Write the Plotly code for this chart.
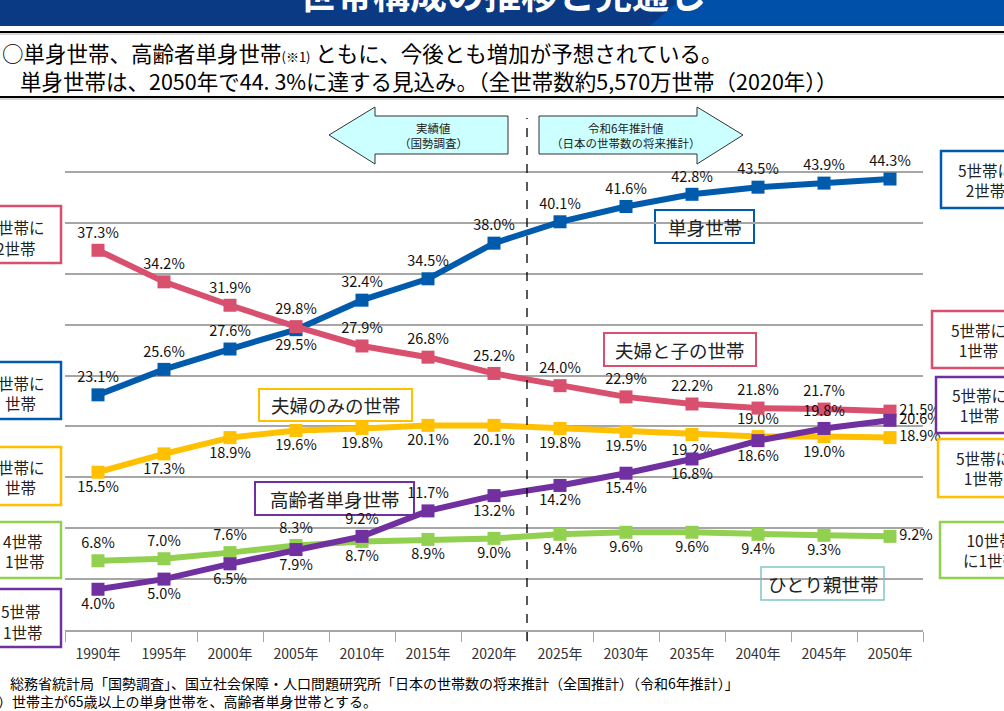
import plotly.graph_objects as go

# data (%)
years = ["1990年", "1995年", "2000年", "2005年", "2010年", "2015年", "2020年",
         "2025年", "2030年", "2035年", "2040年", "2045年", "2050年"]
tanshin = [23.1, 25.6, 27.6, 29.5, 32.4, 34.5, 38.0, 40.1, 41.6, 42.8, 43.5, 43.9, 44.3]
fufu_ko = [37.3, 34.2, 31.9, 29.8, 27.9, 26.8, 25.2, 24.0, 22.9, 22.2, 21.8, 21.7, 21.5]
fufu_nomi = [15.5, 17.3, 18.9, 19.6, 19.8, 20.1, 20.1, 19.8, 19.5, 19.2, 19.0, 19.0, 18.9]
koreisha = [4.0, 5.0, 6.5, 7.9, 9.2, 11.7, 13.2, 14.2, 15.4, 16.8, 18.6, 19.8, 20.6]
hitorioya = [6.8, 7.0, 7.6, 8.3, 8.7, 8.9, 9.0, 9.4, 9.6, 9.6, 9.4, 9.3, 9.2]

BLUE = "#005BAC"
PINK = "#D9506F"
YELLOW = "#FFC000"
PURPLE = "#7030A0"
GREEN = "#92D050"
TEAL = "#80C6C6"
FONT = "Noto Sans CJK JP"

T, B, MR = "top center", "bottom center", "middle right"
pos_tanshin = [T, T, T, B, T, T, T, T, T, T, T, T, T]
pos_fufu_ko = [T] * 12 + [MR]
pos_fufu_nomi = [B] * 10 + [T, B, MR]
pos_koreisha = [B, B, B, B, T, T, B, B, B, B, B, T, MR]
pos_hitorioya = [T, T, T, T] + [B] * 8 + [MR]

# pixel layout of the plot area
W, H = 1004, 711
L, R, TOP, BOT = 65, 923, 121, 630


def px(x):
    return (x - L) / (R - L)


def py(y):
    return (BOT - y) / (BOT - TOP)


fig = go.Figure()


def add_series(vals, color, positions, name):
    fig.add_trace(go.Scatter(
        x=years, y=vals, mode="lines+markers+text", name=name,
        line=dict(color=color, width=6),
        marker=dict(symbol="square", size=13, color=color),
        text=[f"{v:.1f}%" for v in vals], textposition=positions,
        textfont=dict(size=14.5, color="#111111", family=FONT),
        cliponaxis=False, showlegend=False,
    ))


add_series(hitorioya, GREEN, pos_hitorioya, "ひとり親世帯")
add_series(fufu_nomi, YELLOW, pos_fufu_nomi, "夫婦のみの世帯")
add_series(tanshin, BLUE, pos_tanshin, "単身世帯")
add_series(fufu_ko, PINK, pos_fufu_ko, "夫婦と子の世帯")
add_series(koreisha, PURPLE, pos_koreisha, "高齢者単身世帯")

shapes = []
annos = []


def rect(x0, y0, x1, y1, color, width=2.5, fill="white", layer="above"):
    shapes.append(dict(type="rect", xref="paper", yref="paper",
                       x0=px(x0), x1=px(x1), y0=py(y1), y1=py(y0),
                       line=dict(color=color, width=width), fillcolor=fill, layer=layer))


def text(x, y, s, size=15, xanchor="center", color="#222222", align="center"):
    annos.append(dict(xref="paper", yref="paper", x=px(x), y=py(y), text=s,
                      showarrow=False, xanchor=xanchor, yanchor="middle", align=align,
                      font=dict(size=size, color=color, family=FONT)))


# banner at the top (mostly cut off)
shapes.append(dict(type="rect", xref="paper", yref="paper", x0=px(0), x1=px(W),
                   y0=py(26), y1=py(0), line=dict(width=0), fillcolor="#0B3A84", layer="above"))
shapes.append(dict(type="path", xref="paper", yref="paper",
                   path=f"M {px(650)} {py(26)} L {px(680)} {py(0)} L {px(W)} {py(0)} L {px(W)} {py(26)} Z",
                   line=dict(width=0), fillcolor="#0050AA", layer="above"))
annos.append(dict(xref="paper", yref="paper", x=px(502), y=py(-7), text="<b>世帯構成の推移と見通し</b>",
                  showarrow=False, xanchor="center", yanchor="middle",
                  font=dict(size=37, color="white", family=FONT)))

# header box lines
for yy in (32, 97):
    shapes.append(dict(type="line", xref="paper", yref="paper", x0=px(0), x1=px(W),
                       y0=py(yy), y1=py(yy), line=dict(color="black", width=2)))
    shapes.append(dict(type="line", xref="paper", yref="paper", x0=px(0), x1=px(W),
                       y0=py(yy + 2), y1=py(yy + 2), line=dict(color="#B0B0B0", width=1)))

text(0, 52, "○単身世帯、高齢者単身世帯<span style='font-size:13px'>(※1)</span> ともに、今後とも増加が予想されている。",
     size=21.5, xanchor="left", color="black")
text(18, 80, "単身世帯は、2050年で44. 3%に達する見込み。（全世帯数約5,570万世帯（2020年））",
     size=21.5, xanchor="left", color="black")

# arrows
left_arrow = [(329, 135), (375, 107), (375, 116), (508, 116), (508, 154), (375, 154), (375, 164)]
right_arrow = [(539, 116), (697, 116), (697, 107), (743, 135), (697, 164), (697, 154), (539, 154)]
for pts in (left_arrow, right_arrow):
    path = "M " + " L ".join(f"{px(a)} {py(b)}" for a, b in pts) + " Z"
    shapes.append(dict(type="path", xref="paper", yref="paper", path=path,
                       fillcolor="#CCFFFF", line=dict(color="#333333", width=1), layer="above"))
text(433, 128, "実績値", size=11.5)
text(433, 143, "（国勢調査）", size=11.5)
text(626, 128, "令和6年推計値", size=11.5)
text(626, 143, "（日本の世帯数の将来推計）", size=11.5)

# dashed divider between actual and projection
shapes.append(dict(type="line", xref="x", yref="paper", x0=6.5, x1=6.5,
                   y0=py(641), y1=py(118), line=dict(color="black", width=1.3, dash="dash")))

# series name boxes (over the grid, under the lines and labels)
rect(655, 210, 754, 243, BLUE, 2, layer="between")
text(704.5, 227, "単身世帯", size=18.5)
rect(604, 333, 756, 366, PINK, 2, layer="between")
text(680, 350, "夫婦と子の世帯", size=18.5)
rect(259, 389, 412, 421, YELLOW, 2, layer="between")
text(335.5, 405, "夫婦のみの世帯", size=18.5)
rect(255, 482, 414, 515, PURPLE, 2, layer="between")
text(334.5, 499, "高齢者単身世帯", size=18.5)
rect(761, 567, 884, 600, TEAL, 1.5, layer="between")
text(822.5, 584, "ひとり親世帯", size=18.5)

# left side boxes (cut by the page edge)
left_boxes = [
    (206, 263, PINK, "世帯に", 47, 227, "2世帯", 38, 248),
    (362, 419, BLUE, "世帯に", 47, 383, "世帯", 38, 403),
    (447, 505, YELLOW, "世帯に", 47, 467, "世帯", 38, 487),
    (522, 578, GREEN, "4世帯", 45, 541, "1世帯", 47, 561),
    (589, 647, PURPLE, "5世帯", 43, 611, "1世帯", 45, 632),
]
for y0, y1, c, t1, x1, ty1, t2, x2, ty2 in left_boxes:
    rect(-20, y0, 61, y1, c)
    text(x1, ty1, t1, size=15.5, xanchor="right")
    text(x2, ty2, t2, size=15.5, xanchor="right")

# right side boxes (cut by the page edge)
right_boxes = [
    (941, 151, 208, BLUE, "5世帯に<br>2世帯", 986),
    (932, 311, 368, PINK, "5世帯に<br>1世帯", 978),
    (936, 377, 433, PURPLE, "5世帯に<br>1世帯", 979),
    (938, 439, 497, YELLOW, "5世帯に<br>1世帯", 983),
    (940, 522, 578, GREEN, "10世帯<br>に1世帯", 990),
]
for x0, y0, y1, c, s, cx in right_boxes:
    rect(x0, y0, 1030, y1, c)
    text(cx, (y0 + y1) / 2, s, size=15.5)

# footnotes
text(8, 683, "総務省統計局「国勢調査」、国立社会保障・人口問題研究所「日本の世帯数の将来推計（全国推計）（令和6年推計）」",
     size=14, xanchor="left", color="black")
text(-4, 701, "）世帯主が65歳以上の単身世帯を、高齢者単身世帯とする。",
     size=14, xanchor="left", color="black")

fig.update_layout(
    width=W, height=H,
    margin=dict(l=L, r=W - R, t=TOP, b=H - BOT, pad=0),
    paper_bgcolor="white", plot_bgcolor="white",
    font=dict(family=FONT),
    shapes=shapes, annotations=annos,
    xaxis=dict(type="category", range=[-0.5, 12.5], showgrid=False,
               showline=True, linecolor="#A6A6A6", linewidth=1.5,
               ticks="outside", tickson="boundaries", ticklen=10, tickcolor="#A6A6A6",
               tickwidth=1.2, ticklabelstandoff=10,
               tickfont=dict(size=14, color="#333333", family=FONT)),
    yaxis=dict(range=[0, 50], dtick=5, showgrid=True, gridcolor="#A6A6A6", gridwidth=1.5,
               showticklabels=False, zeroline=False, showline=False),
)

fig.write_html("out.html", config={"displayModeBar": False},
               post_script="document.body.style.margin='0px';")
